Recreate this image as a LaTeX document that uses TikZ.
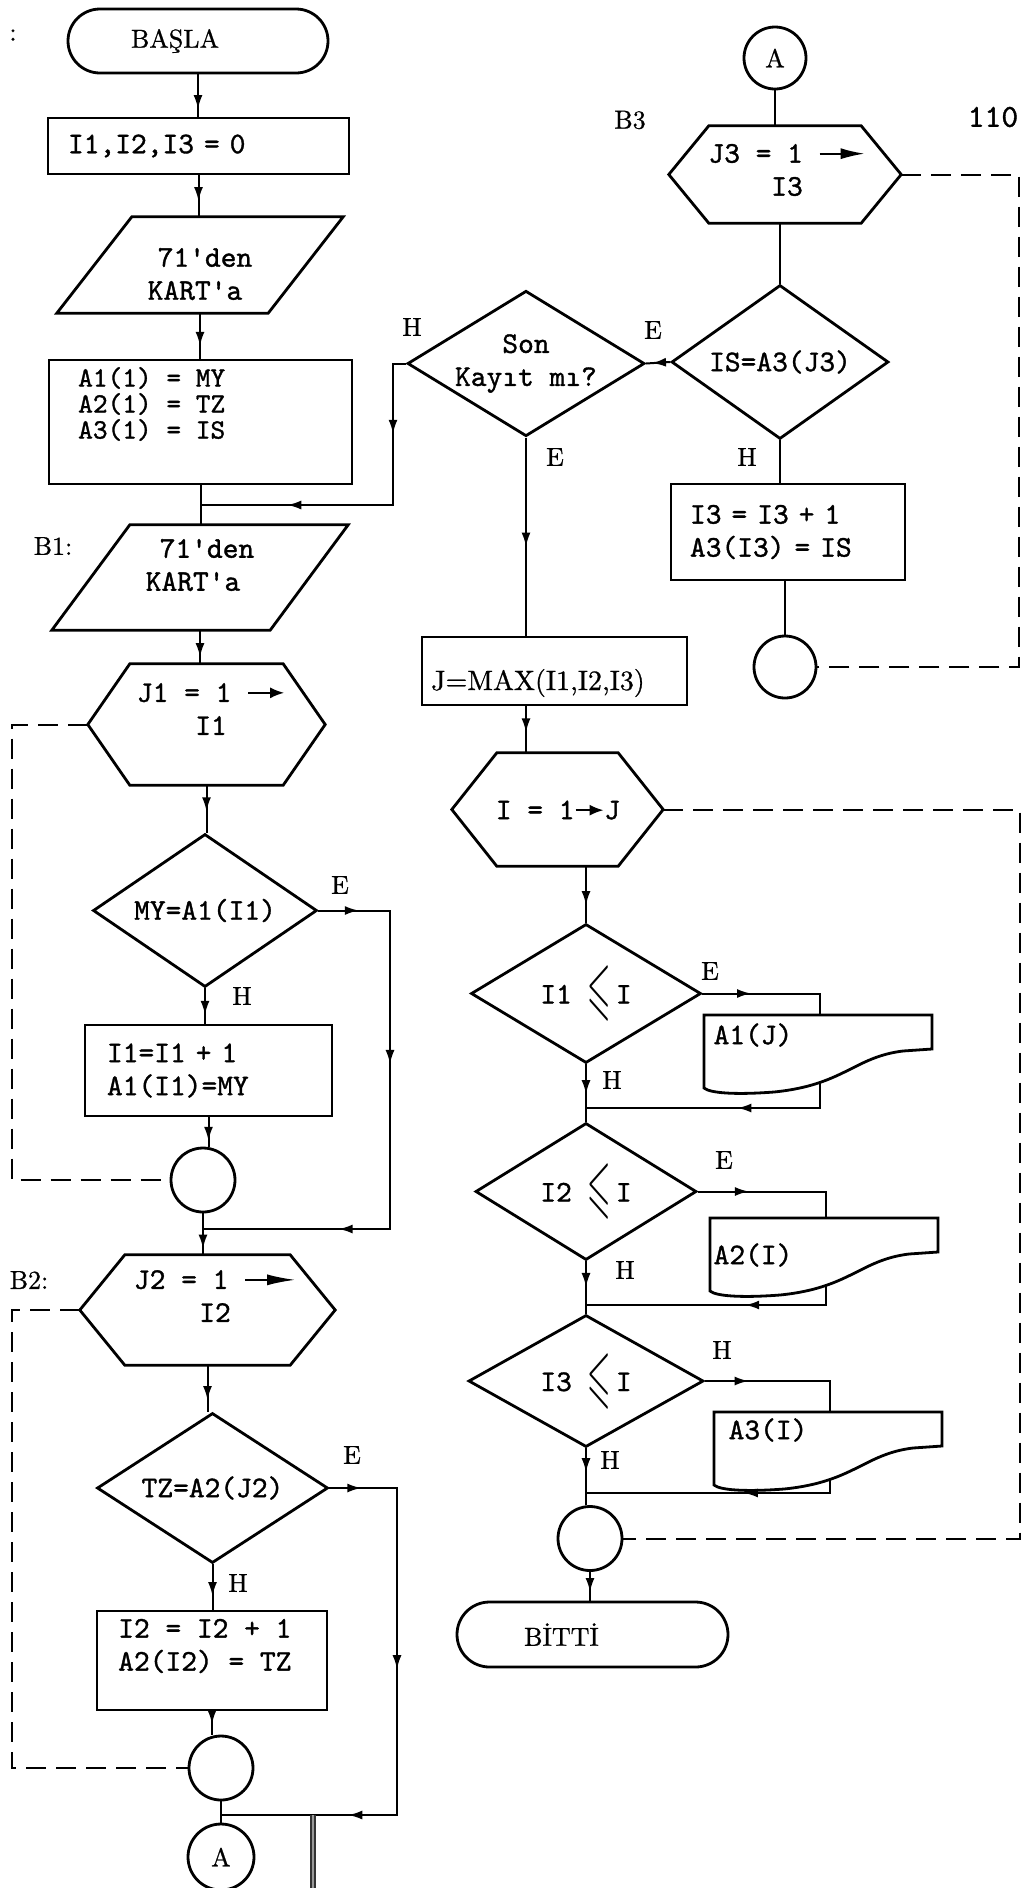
\documentclass[tikz,border=0pt]{standalone}
\usepackage{fontspec}
\usepackage{amssymb}
\usepackage{graphicx}
\usetikzlibrary{arrows.meta,calc,positioning,shapes.geometric,shapes.misc,decorations.markings}

\newfontfamily\codetype{lmmono10-regular.otf}[FakeBold=1.2]
\newfontfamily\labtype{lmroman10-regular.otf}[FakeBold=0.8]
\newcommand{\codefont}{\codetype\fontsize{30}{33}\selectfont}
\newcommand{\tightfont}{\codetype\fontsize{28}{26}\selectfont}
\newcommand{\labfont}{\labtype\fontsize{26}{30}\selectfont}
\newcommand{\runto}[2]{\tikz[baseline=-9pt]\draw[line width=1.8pt,-{Latex[length=#2,width=11pt]}] (0pt,0pt) -- (#1,0pt);}
\newcommand{\slle}{\raisebox{-8pt}{\scalebox{1}[2.4]{$\leqslant$}}}
\newcommand{\hexline}[2]{\draw[shapeline] ($(#1.north west)+(#2,0)$) -- ($(#1.north east)+(-#2,0)$) -- (#1.east) -- ($(#1.south east)+(-#2,0)$) -- ($(#1.south west)+(#2,0)$) -- (#1.west) -- cycle;}
\newcommand{\paraline}[2]{\draw[shapeline] ($(#1.north west)+(#2,0)$) -- (#1.north east) -- ($(#1.south east)+(-#2,0)$) -- (#1.south west) -- cycle;}

\tikzset{
  shapeline/.style={draw, line width=2.8pt},
  term/.style={shapeline, rounded rectangle, inner sep=0pt, font=\labfont},
  proc/.style={shapeline, rectangle, inner ysep=0pt, align=left, font=\codefont},
  frame/.style={rectangle, inner sep=0pt},
  test/.style={shapeline, diamond, shape aspect=1.55, inner sep=0pt, align=center, font=\codefont},
  joint/.style={shapeline, circle, inner sep=0pt, minimum size=64pt, font=\labfont},
  inside/.style={font=\codefont, inner sep=0pt},
  flow/.style={line width=2pt},
  loopback/.style={line width=2pt, dash pattern=on 20pt off 10pt},
  tag/.style={font=\labfont, inner sep=0pt},
  tip/.style={postaction={decorate}, decoration={markings, mark=at position #1 with {\arrow{Latex[length=14pt,width=9pt]}}}},
  tipstwo/.style 2 args={postaction={decorate}, decoration={markings,
    mark=at position #1 with {\arrow{Latex[length=14pt,width=9pt]}},
    mark=at position #2 with {\arrow{Latex[length=14pt,width=9pt]}}}},
  tipsthree/.style n args={3}{postaction={decorate}, decoration={markings,
    mark=at position #1 with {\arrow{Latex[length=14pt,width=9pt]}},
    mark=at position #2 with {\arrow{Latex[length=14pt,width=9pt]}},
    mark=at position #3 with {\arrow{Latex[length=14pt,width=9pt]}}}},
  pics/card/.style={code={
    \draw[shapeline] (0,0) -- (228,0) -- (228,34) -- (199,36)
      .. controls (150,42) and (140,70) .. (70,77)
      .. controls (30,80) and (6,78) .. (0,73) -- cycle;
    \coordinate (-in) at (116,0);
    \coordinate (-out) at (116,66);
  }},
}

\begin{document}
\begin{tikzpicture}[x=1pt, y=-1pt]
\useasboundingbox (0,0) rectangle (1036,1888);

\node[tag] (colon) at (13,35) {:};
\node[term, minimum width=260pt, minimum height=64pt] (start) at (198,41) {BAŞLA\hspace*{46pt}};
\node[proc, minimum height=56pt, text width=261pt, inner xsep=20pt] (init) at (198.5,146) {I1,I2,I3 = 0};
\node[frame, minimum width=286pt, minimum height=96pt] (read1) at (200,265) {};
\paraline{read1}{75}
\node[inside, align=left] (read1txt) at (200,274) {\hspace*{10pt}71'den\\KART'a};
\node[proc, minimum width=303pt, minimum height=124pt] (assign) at (200.5,422) {};
\node[inside, font=\tightfont, align=left, anchor=west] (assigntxt) at (78,404) {A1(1) = MY\\A2(1) = TZ\\A3(1) = IS};
\node[frame, minimum width=296pt, minimum height=105pt] (read2) at (200,577.5) {};
\paraline{read2}{78}
\node[inside, align=left] (read2txt) at (200,565) {\hspace*{14pt}71'den\\KART'a};
\node[tag] (b1) at (53,546) {B1:};
\node[frame, minimum width=237pt, minimum height=121pt] (loop1) at (206.5,724.5) {};
\hexline{loop1}{42}
\node[inside, align=center] (loop1txt) at (211,709) {J1 = 1 \runto{36pt}{14pt}\\I1};
\node[test, minimum width=224pt, minimum height=153pt] (test1) at (205,910.5) {MY=A1(I1)};
\node[proc, minimum height=91pt, text width=203pt, inner xsep=22pt] (inc1) at (208.5,1070.5) {I1=I1 + 1\\A1(I1)=MY};
\node[joint] (join1) at (203,1180) {};
\node[tag] (b2) at (29,1280) {B2:};
\node[frame, minimum width=255pt, minimum height=110pt] (loop2) at (207.5,1310) {};
\hexline{loop2}{45}
\node[inside, align=center] (loop2txt) at (215,1296) {J2 = 1 \runto{50pt}{28pt}\\I2};
\node[test, minimum width=231pt, minimum height=150pt] (test2) at (212.5,1488) {TZ=A2(J2)};
\node[proc, minimum width=230pt, minimum height=99pt] (inc2) at (212,1660.5) {};
\node[inside, align=left, anchor=west] (inc2txt) at (118,1646) {I2 = I2 + 1\\A2(I2) = TZ};
\node[joint] (join2) at (221,1768) {};
\node[joint, minimum size=66pt] (conA) at (221,1857) {A};

\node[joint, minimum size=62pt] (conB) at (775,58) {A};
\node[tag] (b3) at (630,120) {B3};
\node[tag, font=\codetype\fontsize{32}{36}\selectfont] (pageno) at (993,117) {110};
\node[frame, minimum width=232pt, minimum height=97pt] (loop3) at (785,174.5) {};
\hexline{loop3}{40}
\node[inside, align=center] (loop3txt) at (787,170) {J3 = 1 \runto{45pt}{24pt}\\I3};
\node[test, minimum width=217pt, minimum height=154pt] (test3) at (780,362) {IS=A3(J3)};
\node[proc, minimum height=96pt, text width=196pt, inner xsep=19pt] (inc3) at (788,532) {I3 = I3 + 1\\A3(I3) = IS};
\node[joint, minimum size=62pt] (join3) at (785,667) {};
\node[test, minimum width=233pt, minimum height=143pt, shape aspect=1.63] (last) at (526,363.5) {Son\\Kayıt mı?};
\node[proc, minimum width=265pt, minimum height=68pt] (jmax) at (554.5,671) {};
\node[inside, font=\labtype\fontsize{28}{32}\selectfont, anchor=west] (jmaxtxt) at (431,683) {J=MAX(I1,I2,I3)};
\node[frame, minimum width=211pt, minimum height=113pt] (iloop) at (557.5,809.5) {};
\hexline{iloop}{45}
\node[inside] (iloopt) at (558,810) {I = 1\runto{28pt}{14pt}J};
\node[test, minimum width=230pt, minimum height=139pt, shape aspect=1.65] (cmp1) at (586,993.5) {I1 \slle\,I};
\node[test, minimum width=221pt, minimum height=137pt, shape aspect=1.65] (cmp2) at (586,1191.5) {I2 \slle\,I};
\node[test, minimum width=235pt, minimum height=132pt, shape aspect=1.65] (cmp3) at (586,1381) {I3 \slle\,I};
\node[joint] (join4) at (590,1538.5) {};
\node[term, minimum width=271pt, minimum height=65pt] (stop) at (592.5,1634.5) {BİTTİ\hspace*{62pt}};

\pic (card1) at (704,1015) {card};
\pic (card2) at (710,1218) {card};
\pic (card3) at (714,1412) {card};
\node[inside] (out1) at (753,1035) {A1(J)};
\node[inside] (out2) at (753,1255) {A2(I)};
\node[inside] (out3) at (768,1430) {A3(I)};

\node[tag] (h0) at (412,327) {H};
\node[tag] (e0) at (653,330) {E};
\node[tag] (e00) at (555,457) {E};
\node[tag] (h00) at (747,457) {H};
\node[tag] (e1) at (340,885) {E};
\node[tag] (h1) at (242,996) {H};
\node[tag] (e2) at (352,1455) {E};
\node[tag] (h2) at (238,1583) {H};
\node[tag] (e3) at (710,971) {E};
\node[tag] (h3) at (612,1080) {H};
\node[tag] (e4) at (724,1160) {E};
\node[tag] (h4) at (625,1270) {H};
\node[tag] (h5) at (722,1350) {H};
\node[tag] (h6) at (610,1460) {H};

\coordinate (m0) at (assign.south |- 0,505);
\coordinate (m1) at (join1.south |- 0,1229);
\coordinate (m2) at (join2.south |- 0,1815);
\coordinate (m3) at (cmp1.south |- 0,1108);
\coordinate (m4) at (cmp2.south |- 0,1305);
\coordinate (m5) at (cmp3.south |- 0,1493);
\coordinate (hleft) at (393,0);
\coordinate (eleft1) at (390,0);
\coordinate (eleft2) at (397,0);
\coordinate (dl) at (12,0);
\coordinate (dr3) at (1019,0);
\coordinate (dr4) at (1020,0);

\draw[flow, tip=0.82] (start.south) -- (start.south |- init.north);
\draw[flow, tip=0.62] (init.south) -- (init.south |- read1.north);
\draw[flow, tip=0.72] (read1.south) -- (read1.south |- assign.north);
\draw[flow] (assign.south) -- (assign.south |- read2.north);
\draw[flow, tip=0.8] (read2.south) -- (read2.south |- loop1.north);
\draw[flow, tip=0.55] (loop1.south) -- (loop1.south |- test1.north);
\draw[flow, tip=0.75] (test1.south) -- (test1.south |- inc1.north);
\draw[flow, tip=0.8] (inc1.south) -- (inc1.south |- join1.north);
\draw[flow, tip=0.85] (join1.south) -- (join1.south |- loop2.north);
\draw[flow, tip=0.75] (loop2.south) -- (loop2.south |- test2.north);
\draw[flow, tip=0.7] (test2.south) -- (test2.south |- inc2.north);
\draw[flow, tip=0.55] (inc2.south) -- (inc2.south |- join2.north);
\draw[flow] (join2.south) -- (join2.south |- conA.north);

\draw[flow, tipstwo={0.24}{0.75}] (last.west) -- (last.west -| hleft) -- (hleft |- m0) -- (m0);
\draw[flow, tipsthree={0.07}{0.39}{0.765}] (test1.east) -- (test1.east -| eleft1) -- (eleft1 |- m1) -- (m1);
\draw[flow, tipsthree={0.056}{0.436}{0.777}] (test2.east) -- (test2.east -| eleft2) -- (eleft2 |- m2) -- (m2);
\draw[loopback] (loop1.west) -- (loop1.west -| dl) -- (dl |- join1.west) -- (join1.west);
\draw[loopback] (loop2.west) -- (loop2.west -| dl) -- (dl |- join2.west) -- (join2.west);
\draw[black!80, line width=1.6pt, double=black!40, double distance=2.6pt] (313,1815) -- (313,1888);

\draw[flow] (conB.south) -- (conB.south |- loop3.north);
\draw[flow] (loop3.south -| test3.north) -- (test3.north);
\draw[flow, tip=0.75] (test3.west) -- (last.east);
\draw[flow] (test3.south) -- (test3.south |- inc3.north);
\draw[flow] (inc3.south -| join3.north) -- (join3.north);
\draw[loopback] (loop3.east) -- (loop3.east -| dr3) -- (dr3 |- join3.east) -- (join3.east);

\draw[flow, tip=0.55] (last.south) -- (last.south |- jmax.north);
\draw[flow, tip=0.56] (jmax.south -| last.south) -- (iloop.north -| last.south);
\draw[flow, tip=0.69] (iloop.south -| cmp1.north) -- (cmp1.north);
\draw[loopback] (iloop.east) -- (iloop.east -| dr4) -- (dr4 |- join4.east) -- (join4.east);

\draw[flow, tip=0.35] (cmp1.east) -| (card1-in);
\draw[flow, tip=0.42] (card1-out) |- (m3);
\draw[flow, tip=0.52] (cmp1.south) -- (cmp2.north);
\draw[flow, tip=0.33] (cmp2.east) -| (card2-in);
\draw[flow, tip=0.39] (card2-out) |- (m4);
\draw[flow, tip=0.49] (cmp2.south) -- (cmp3.north);
\draw[flow, tip=0.28] (cmp3.east) -| (card3-in);
\draw[flow, tip=0.39] (card3-out) |- (m5);
\draw[flow, tip=0.42] (cmp3.south) -- (cmp3.south |- join4.north);
\draw[flow, tip=0.7] (join4.south) -- (join4.south |- stop.north);
\end{tikzpicture}
\end{document}
